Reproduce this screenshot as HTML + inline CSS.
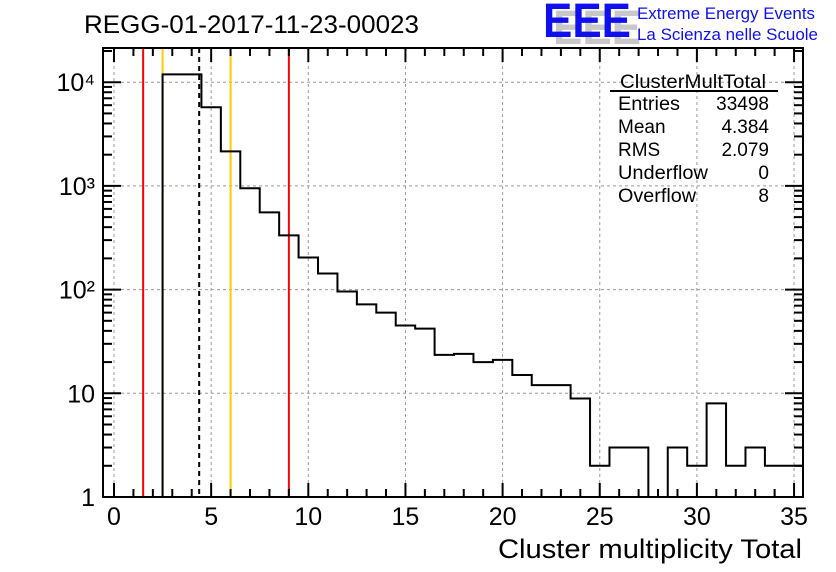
<!DOCTYPE html>
<html><head><meta charset="utf-8"><style>
body{margin:0;background:#fff;}
svg{display:block;font-family:"Liberation Sans",Arial,sans-serif;}
</style></head><body>
<svg id="c" width="836" height="572">
<text x="84" y="33" font-size="25" fill="#000" textLength="335" lengthAdjust="spacingAndGlyphs">REGG-01-2017-11-23-00023</text>
<g>
<text x="548" y="41" font-size="48" font-weight="bold" fill="#c8c8c8" textLength="88" lengthAdjust="spacingAndGlyphs" transform="translate(5,3)">EEE</text>
<text x="543" y="37" font-size="48" font-weight="bold" fill="#1010ee" textLength="88" lengthAdjust="spacingAndGlyphs">EEE</text>
<text x="637" y="19" font-size="17" fill="#1010ee" textLength="178" lengthAdjust="spacingAndGlyphs">Extreme Energy Events</text>
<text x="637" y="40" font-size="17" fill="#1010ee" textLength="181" lengthAdjust="spacingAndGlyphs">La Scienza nelle Scuole</text>
</g>
<g id="grid"></g><g id="lines"></g><g id="hist"></g><g id="axes"></g>
<g font-size="19" fill="#000">
<text x="620" y="88" textLength="146" lengthAdjust="spacingAndGlyphs">ClusterMultTotal</text>
<line x1="610" y1="91" x2="778" y2="91" stroke="#000" stroke-width="2"/>
<text x="618" y="110" textLength="62" lengthAdjust="spacingAndGlyphs">Entries</text><text x="769" y="110" text-anchor="end">33498</text>
<text x="618" y="133">Mean</text><text x="769" y="133" text-anchor="end">4.384</text>
<text x="618" y="156">RMS</text><text x="769" y="156" text-anchor="end">2.079</text>
<text x="618" y="179" textLength="90" lengthAdjust="spacingAndGlyphs">Underflow</text><text x="769" y="179" text-anchor="end">0</text>
<text x="618" y="202" textLength="78" lengthAdjust="spacingAndGlyphs">Overflow</text><text x="769" y="202" text-anchor="end">8</text>
</g>
<text x="498" y="558" font-size="27" textLength="304" lengthAdjust="spacingAndGlyphs">Cluster multiplicity Total</text>
</svg>
<script>
const binCenters=[3,4,5,6,7,8,9,10,11,12,13,14,15,16,17,18,19,20,21,22,23,24,25,26,27,28,29,30,31,32,33,34,35];
const counts=[11900,11900,5740,2150,950,555,333,204,143,96,72,60,45,42,23.5,24,20,21,15,12,12,8.9,2,3,3,0,3,2,8,2,3,2,2];
const xTicks=[0,5,10,15,20,25,30,35];
const yTicks=[1,10,100,1000,10000];
const yTickLabels=["1","10","10²","10³","10⁴"];
const vLines=[{x:1.5,c:"#ff0000",d:""},{x:2.5,c:"#ffcc00",d:""},{x:6,c:"#ffcc00",d:""},{x:9,c:"#ff0000",d:""},{x:4.384,c:"#000",d:"5,4"}];
const L=103,R=803,T=48,B=497;
const X=v=>114+v*19.43;
const Y=v=>B-Math.log10(Math.max(v,1))*103.7;
const NS="http://www.w3.org/2000/svg";
function mk(t,a,p){const e=document.createElementNS(NS,t);for(const k in a)e.setAttribute(k,a[k]);p.appendChild(e);return e;}
const grid=document.getElementById('grid'),axes=document.getElementById('axes'),lines=document.getElementById('lines'),hist=document.getElementById('hist');
xTicks.forEach(t=>{const g=mk('line',{x1:X(t),x2:X(t),y1:T,y2:B,stroke:'#999','stroke-dasharray':'3,3','stroke-width':1},grid);

});
yTicks.forEach(t=>{if(t===1)return;const g=mk('line',{x1:L,x2:R,y1:Y(t),y2:Y(t),stroke:'#999','stroke-dasharray':'3,3','stroke-width':1},grid);

});
vLines.forEach(v=>{const l=mk('line',{x1:X(v.x),x2:X(v.x),y1:T,y2:B,stroke:v.c,'stroke-width':2,'stroke-dasharray':v.d},lines);

});
let d='';
binCenters.forEach((c,i)=>{const x0=X(c-0.5),x1=X(c+0.5),y=counts[i]>0?Y(counts[i]):B;
d+=(i===0?`M${x0},${B}`:'')+`L${x0},${y}L${x1},${y}`;});
const hp=mk('path',{d:d,fill:'none',stroke:'#000','stroke-width':2},hist);


const fr=mk('rect',{x:L,y:T,width:R-L,height:B-T,fill:'none',stroke:'#000','stroke-width':2},axes);


for(let v=0;v<=35;v++){const big=v%5===0;const h=big?14:8;
mk('line',{x1:X(v),x2:X(v),y1:B,y2:B-h,stroke:'#000','stroke-width':2},axes);
mk('line',{x1:X(v),x2:X(v),y1:T,y2:T+h,stroke:'#000','stroke-width':2},axes);}
xTicks.forEach(t=>{const tx=mk('text',{x:X(t),y:525,'font-size':25,'text-anchor':'middle'},axes);tx.textContent=t;

});
for(let dec=0;dec<5;dec++){for(let m=1;m<=9;m++){const v=Math.pow(10,dec)*m;const y=Y(v);if(y<T)continue;const h=m===1?18:9;
mk('line',{x1:L,x2:L+h,y1:y,y2:y,stroke:'#000','stroke-width':2},axes);
mk('line',{x1:R,x2:R-h,y1:y,y2:y,stroke:'#000','stroke-width':2},axes);}}
yTicks.forEach((t,i)=>{const tx=mk('text',{x:95,y:Y(t)+9,'font-size':25,'text-anchor':'end'},axes);tx.textContent=yTickLabels[i];

});
</script>
</body></html>
